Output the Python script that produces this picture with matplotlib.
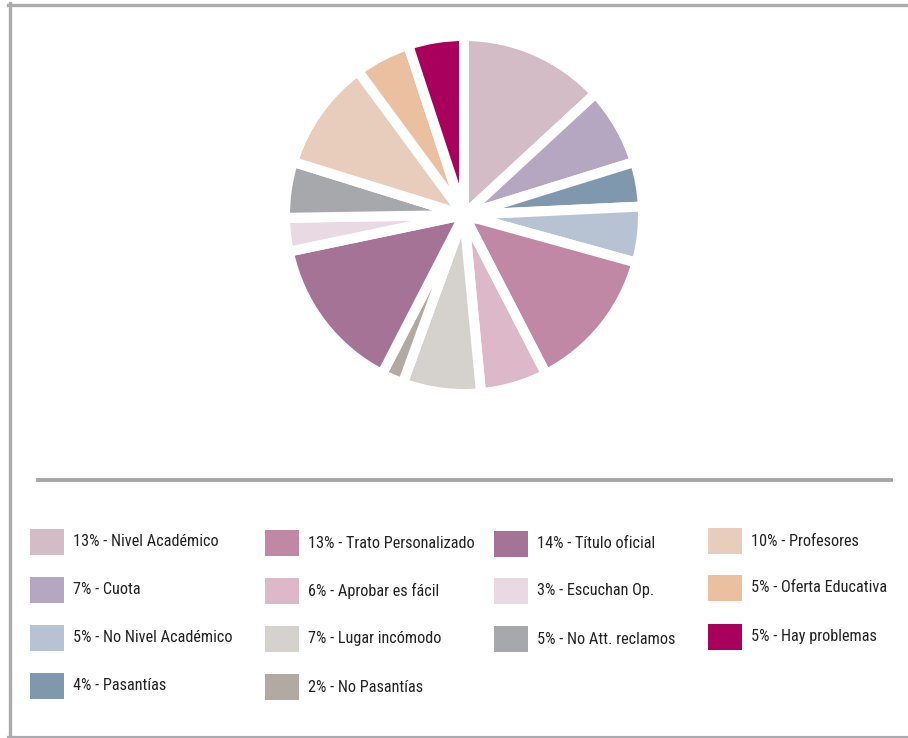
import matplotlib
matplotlib.use("Agg")
import matplotlib.pyplot as plt
from matplotlib.patches import Rectangle
from matplotlib.lines import Line2D

# datos de la encuesta (en sentido horario desde arriba)
categorias = ["Nivel Académico", "Cuota", "Pasantías", "No Nivel Académico",
              "Trato Personalizado", "Aprobar es fácil", "Lugar incómodo",
              "No Pasantías", "Título oficial", "Escuchan Op.",
              "No Att. reclamos", "Profesores", "Oferta Educativa",
              "Hay problemas"]
porcentajes = [13, 7, 4, 5, 13, 6, 7, 2, 14, 3, 5, 10, 5, 5]
colores = ["#D4BCC6", "#B5A6C2", "#7F98AD", "#B7C3D3",
           "#C088A4", "#DDB8C9", "#D5D2CD", "#B2AAA2",
           "#A57396", "#E8D9E3", "#A7A8AC", "#E8CDBC",
           "#EBC0A0", "#A8005C"]

# orden de la leyenda: columnas de arriba hacia abajo
columnas_leyenda = [
    ["Nivel Académico", "Cuota", "No Nivel Académico", "Pasantías"],
    ["Trato Personalizado", "Aprobar es fácil", "Lugar incómodo", "No Pasantías"],
    ["Título oficial", "Escuchan Op.", "No Att. reclamos"],
    ["Profesores", "Oferta Educativa", "Hay problemas"],
]

W, H = 908, 738
fig = plt.figure(figsize=(W / 100, H / 100), dpi=100)
fig.patch.set_facecolor("white")
FUENTE = ["DejaVu Sans Condensed", "Liberation Sans Narrow", "Roboto Condensed", "DejaVu Sans"]


def fx(x):
    return x / W


def fy(y):
    return 1 - y / H


# marco gris
gris = "#ABABAF"
fig.add_artist(Line2D([fx(9.5), fx(9.5)], [fy(3), fy(737)], color=gris, lw=2.4))
fig.add_artist(Line2D([fx(8), fx(908)], [fy(4.5), fy(4.5)], color=gris, lw=2.4))
fig.add_artist(Line2D([fx(8), fx(908)], [fy(736.5), fy(736.5)], color=gris, lw=1.6))

# torta
cx, cy, r = 464, 215, 179
ax = fig.add_axes([fx(cx - r), fy(cy + r), 2 * r / W, 2 * r / H])
ax.pie(porcentajes, colors=colores, startangle=90, counterclock=False,
       wedgeprops=dict(edgecolor="white", linewidth=7.2))
ax.set_xlim(-1, 1)
ax.set_ylim(-1, 1)
ax.axis("off")

# separador
fig.add_artist(Line2D([fx(38), fx(891)], [fy(480), fy(480)], color="#A6A6A6", lw=2.8))

# leyenda
col_x = [30, 265, 494, 708]
fila_y = [[542, 590, 638, 686], [543, 591, 639, 687],
          [544, 591, 639], [541, 588, 637]]
mapa = dict(zip(categorias, zip(porcentajes, colores)))
for ci, col in enumerate(columnas_leyenda):
    for ri, nombre in enumerate(col):
        pct, c = mapa[nombre]
        x, y = col_x[ci], fila_y[ci][ri]
        fig.add_artist(Rectangle((fx(x), fy(y + 13)), 34 / W, 26 / H,
                                 facecolor=c, edgecolor="none"))
        fig.text(fx(x + 43), fy(y), f"{pct}% - {nombre}", family=FUENTE,
                 fontstretch="condensed", fontsize=11.7, color="#222222",
                 va="center", ha="left")

fig.savefig("out.png", dpi=100)
